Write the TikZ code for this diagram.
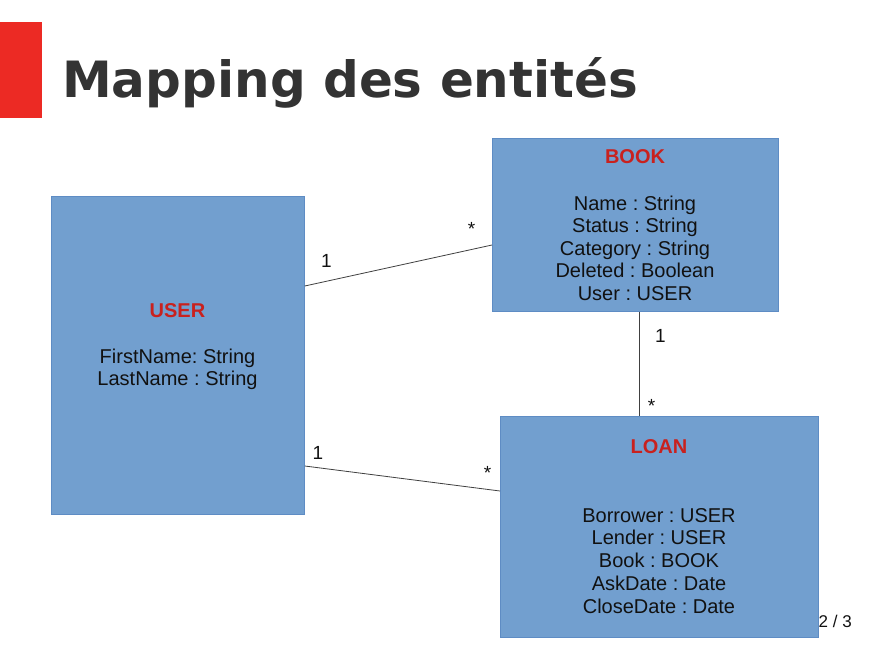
\documentclass[tikz,border=0pt]{standalone}
\usepackage{fontspec}
\setmainfont{Liberation Sans}
\newfontfamily\titlefont{DejaVu Sans}
\usetikzlibrary{calc}
\frenchspacing
\definecolor{boxfill}{HTML}{729FCF}
\definecolor{boxline}{HTML}{5E8CC4}
\definecolor{entred}{HTML}{C9211E}
\definecolor{titlegray}{HTML}{333333}
\definecolor{barred}{HTML}{EC2A24}
\definecolor{txt}{HTML}{111111}
\tikzset{
  entity/.style={draw=boxline, line width=0.8pt, fill=boxfill, rectangle, anchor=north west, inner sep=0pt},
  enttitle/.style={anchor=base, inner sep=0pt, text=entred, font=\fontsize{20}{23}\selectfont\bfseries},
  attr/.style={anchor=base, inner sep=0pt, text=txt, font=\fontsize{20}{23}\selectfont},
  mult/.style={anchor=base, inner sep=0pt, text=txt, font=\fontsize{19}{22}\selectfont},
  link/.style={draw=black!75, line width=0.8pt},
}
\begin{document}
\begin{tikzpicture}[x=1pt,y=-1pt]
\useasboundingbox[fill=white] (0,0) rectangle (895,670);
% title bar
\fill[barred] (0,22) rectangle (42,118);
\node[anchor=base west, inner sep=0pt, text=titlegray, font=\titlefont\fontsize{50}{60}\selectfont\bfseries] (title) at (62,97) {Mapping des entités};

% entities
\node[entity, minimum width=253pt, minimum height=318pt] (user) at (51,196) {};
\node[entity, minimum width=286pt, minimum height=173pt] (book) at (492,138) {};
\node[entity, minimum width=318pt, minimum height=221pt] (loan) at (500,416) {};

% USER text
\node[enttitle] (usert) at (177.5,317) {USER};
\node[attr] (usera1) at (177.5,363) {FirstName: String};
\node[attr] (usera2) at (177.5,385) {LastName : String};

% BOOK text
\node[enttitle] (bookt) at (635,163) {BOOK};
\foreach \t [count=\i] in {Name : String, Status : String, Category : String, Deleted : Boolean, User : USER}
  \node[attr] (booka\i) at (635,{210+22.6*(\i-1)}) {\t};

% LOAN text
\node[enttitle] (loant) at (659,453) {LOAN};
\foreach \t [count=\i] in {Borrower : USER, Lender : USER, Book : BOOK, AskDate : Date, CloseDate : Date}
  \node[attr] (loana\i) at (659,{522+22.8*(\i-1)}) {\t};

% connectors
\coordinate (ub) at ($(user.north east)+(0,90)$);
\coordinate (bu) at ($(book.north west)+(0,107)$);
\coordinate (ul) at ($(user.north east)+(0,270)$);
\coordinate (lu) at ($(loan.north west)+(0,75)$);
\coordinate (bl) at ($(book.south)+(4,0)$);
\draw[link] (ub) -- (bu);
\draw[link] (ul) -- (lu);
\draw[link] (bl) -- (bl |- loan.north);

% multiplicities
\node[mult] (m1) at (326.5,267) {1};
\node[mult] (m2) at (471.5,235) {*};
\node[mult] (m3) at (318,459) {1};
\node[mult] (m4) at (487.5,479) {*};
\node[mult] (m5) at (660.5,342) {1};
\node[mult] (m6) at (651.5,412) {*};

% page number
\node[anchor=base east, inner sep=0pt, text=txt, font=\fontsize{17}{20}\selectfont] (page) at (852,627) {2 / 3};
\end{tikzpicture}
\end{document}
